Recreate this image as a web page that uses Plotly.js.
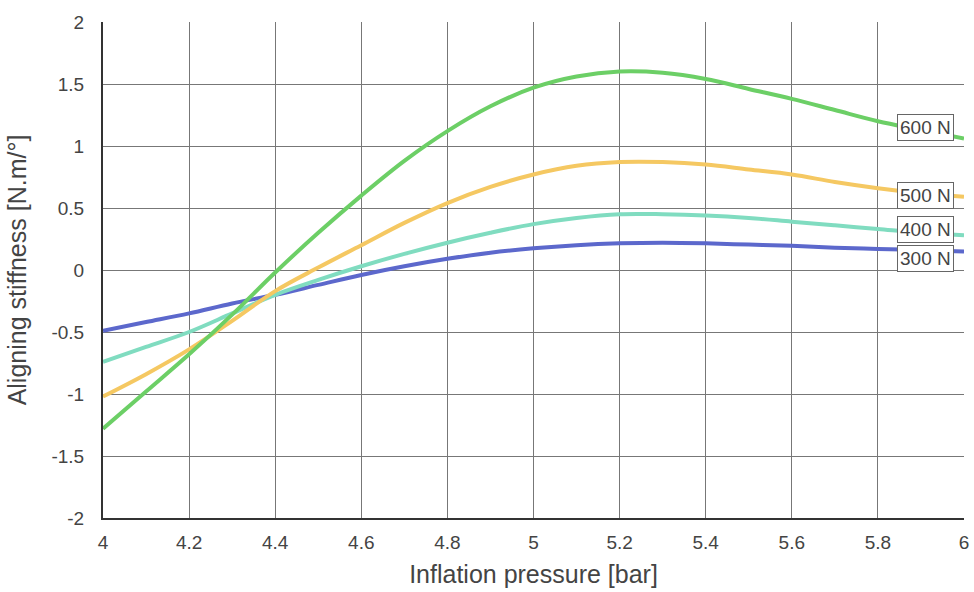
<!DOCTYPE html>
<html>
<head>
<meta charset="utf-8">
<script src="https://cdn.plot.ly/plotly-3.0.1.min.js"></script>
<style>html,body{margin:0;padding:0;background:#fff;}#chart{width:974px;height:592px;}</style>
</head>
<body>
<div id="chart"></div>
<script>
var pressure = [4.0, 4.1, 4.2, 4.3, 4.4, 4.5, 4.6, 4.7, 4.8, 4.9, 5.0, 5.1, 5.2, 5.3, 5.4, 5.5, 5.6, 5.7, 5.8, 5.9, 6.0];
var load600 = [-1.28, -0.98, -0.68, -0.36, -0.02, 0.30, 0.60, 0.88, 1.12, 1.32, 1.47, 1.56, 1.60, 1.59, 1.54, 1.46, 1.38, 1.29, 1.20, 1.13, 1.06];
var load500 = [-1.02, -0.84, -0.64, -0.41, -0.17, 0.02, 0.20, 0.38, 0.54, 0.67, 0.77, 0.84, 0.87, 0.87, 0.85, 0.81, 0.77, 0.71, 0.66, 0.62, 0.59];
var load400 = [-0.74, -0.62, -0.50, -0.35, -0.20, -0.08, 0.03, 0.13, 0.22, 0.30, 0.37, 0.42, 0.45, 0.45, 0.44, 0.42, 0.39, 0.36, 0.33, 0.30, 0.28];
var load300 = [-0.49, -0.42, -0.35, -0.27, -0.20, -0.12, -0.04, 0.03, 0.09, 0.14, 0.175, 0.20, 0.215, 0.22, 0.215, 0.205, 0.195, 0.18, 0.17, 0.16, 0.15];
var labels = ["600 N", "500 N", "400 N", "300 N"];
var labelX = [5.91, 5.91, 5.91, 5.91];
var labelY = [1.15, 0.60, 0.33, 0.09];
var colors = ["#6ccf66", "#f5c862", "#80dcc0", "#5c68cc"];
var series = [load600, load500, load400, load300];
var xTickVals = [4, 4.2, 4.4, 4.6, 4.8, 5, 5.2, 5.4, 5.6, 5.8, 6];
var xTickText = ["4", "4.2", "4.4", "4.6", "4.8", "5", "5.2", "5.4", "5.6", "5.8", "6"];
var yTickVals = [-2, -1.5, -1, -0.5, 0, 0.5, 1, 1.5, 2];
var yTickText = ["-2", "-1.5", "-1", "-0.5", "0", "0.5", "1", "1.5", "2"];

var traces = series.map(function (s, i) {
  return {
    x: pressure, y: s, type: "scatter", mode: "lines",
    line: {color: colors[i], width: 4, shape: "spline", smoothing: 1},
    name: labels[i], hoverinfo: "x+y"
  };
}).reverse();

var annotations = labels.map(function (t, i) {
  return {
    x: labelX[i], y: labelY[i], xref: "x", yref: "y", text: t, showarrow: false,
    font: {family: "Liberation Sans, Arial, sans-serif", size: 19, color: "#444"},
    bgcolor: "#ffffff", bordercolor: "#666", borderwidth: 1, borderpad: 2
  };
});

var layout = {
  width: 974, height: 592,
  margin: {l: 103, r: 10, t: 22, b: 74},
  paper_bgcolor: "#fff", plot_bgcolor: "#fff",
  showlegend: false,
  font: {family: "Liberation Sans, Arial, sans-serif", color: "#444"},
  xaxis: {
    range: [4, 6], tickmode: "array", tickvals: xTickVals, ticktext: xTickText,
    showgrid: true, gridcolor: "#777", gridwidth: 1,
    zeroline: false, showline: true, linecolor: "#333", linewidth: 2, mirror: false,
    ticks: "", ticklabelstandoff: 6,
    tickfont: {size: 19, color: "#444"},
    title: {text: "Inflation pressure [bar]", font: {size: 25, color: "#444"}, standoff: 14}
  },
  yaxis: {
    range: [-2, 2], tickmode: "array", tickvals: yTickVals, ticktext: yTickText,
    showgrid: true, gridcolor: "#777", gridwidth: 1,
    zeroline: false, showline: true, linecolor: "#333", linewidth: 2,
    ticks: "", ticklabelstandoff: 13,
    tickfont: {size: 19, color: "#444"},
    title: {text: "Aligning stiffness [N.m/°]", font: {size: 25, color: "#444"}, standoff: 18}
  },
  annotations: annotations
};

Plotly.newPlot("chart", traces, layout, {displayModeBar: false, staticPlot: true});
</script>
</body>
</html>
